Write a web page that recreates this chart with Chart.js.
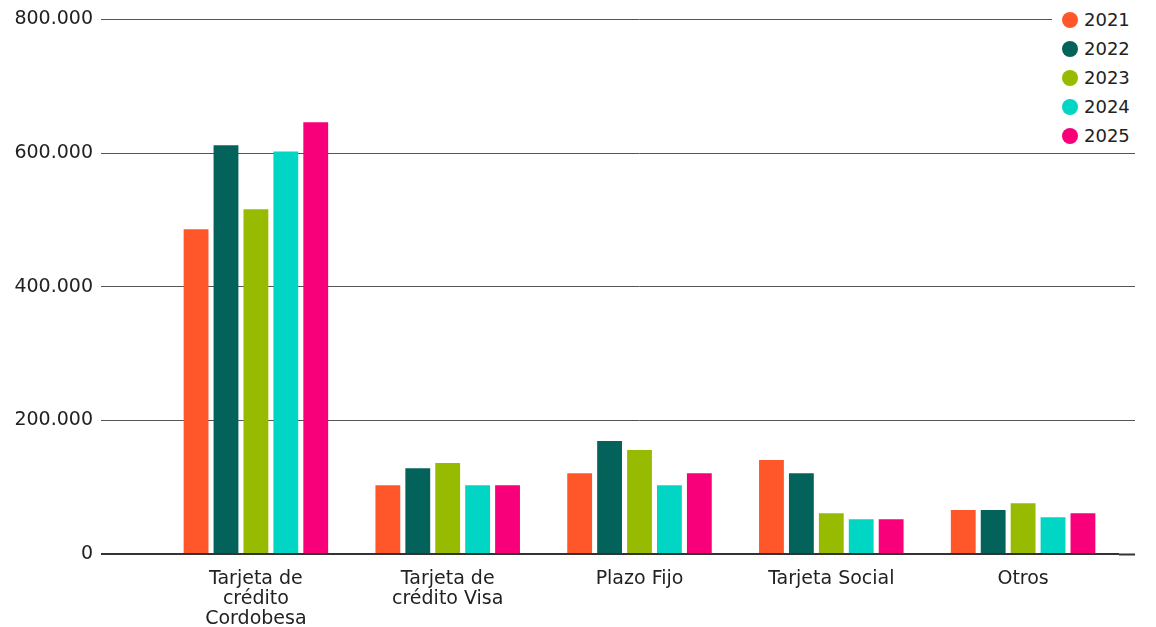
<!DOCTYPE html>
<html>
<head>
<meta charset="utf-8">
<script src="https://cdn.jsdelivr.net/npm/chart.js@4"></script>
<style>
  body { margin: 0; background: #fff; font-family: "DejaVu Sans", sans-serif; }
  #wrap { position: relative; width: 1156px; height: 627px; }
  #leyenda { position: absolute; left: 1052px; right: 0; top: 5px; background: #fff; padding: 0 0 0 10px; }
  #leyenda div { height: 29px; line-height: 29px; font-size: 18px; color: #222; display: flex; align-items: center; }
  #leyenda span { display: inline-block; width: 16px; height: 16px; border-radius: 50%; margin-right: 6px; }
</style>
</head>
<body>
<div id="wrap">
  <canvas id="grafico"></canvas>
  <div id="leyenda"></div>
</div>
<script>
const categorias = [
    ['Tarjeta de', 'crédito', 'Cordobesa'],
    ['Tarjeta de', 'crédito Visa'],
    'Plazo Fijo',
    'Tarjeta Social',
    'Otros'
];
const anios = ['2021', '2022', '2023', '2024', '2025'];
const colores = ['#FF5729', '#03635B', '#97BB00', '#00D6C3', '#F8007A'];

const v2021 = [486000, 103000, 121000, 140500, 66000];
const v2022 = [611500, 128500, 169000, 121000, 66000];
const v2023 = [516000, 136000, 155500, 61000, 76000];
const v2024 = [602500, 103000, 103000, 52000, 55000];
const v2025 = [646000, 103000, 121000, 52000, 61000];

const ticksY = [0, 200000, 400000, 600000, 800000];

const series = [v2021, v2022, v2023, v2024, v2025];
const fuente = { family: '"DejaVu Sans", sans-serif', size: 19 };
const colorGrilla = ctx => ctx.tick && ctx.tick.value === 0 ? '#333' : '#555';
const anchoGrilla = ctx => ctx.tick && ctx.tick.value === 0 ? 2 : 1;

const grafico = new Chart(document.getElementById('grafico'), {
    type: 'bar',
    data: {
        labels: categorias,
        datasets: series.map((s, i) => ({
            label: anios[i],
            data: s,
            backgroundColor: colores[i],
            categoryPercentage: 0.78,
            barPercentage: 0.83
        }))
    },
    options: {
        responsive: true,
        maintainAspectRatio: false,
        animation: false,
        layout: { padding: { top: 8, bottom: 0, left: 0, right: 21 } },
        plugins: { legend: { display: false }, tooltip: { enabled: false } },
        scales: {
            x: {
                afterFit: ax => { ax.height = 73; },
                grid: { display: false, drawTicks: false },
                border: { display: false },
                ticks: { color: '#222', font: { ...fuente, lineHeight: 1.05 }, padding: 15, maxRotation: 0, autoSkip: false }
            },
            y: {
                min: 0, max: 800000,
                afterBuildTicks: ax => { ax.ticks = ticksY.map(v => ({ value: v })); },
                afterFit: ax => { ax.width = 160; },
                border: { display: false },
                grid: { color: colorGrilla, lineWidth: anchoGrilla, tickLength: 59, tickColor: colorGrilla, tickWidth: anchoGrilla },
                ticks: {
                    color: '#222', font: fuente, padding: 8,
                    callback: v => v.toLocaleString('de-DE')
                }
            },
            y2: {
                position: 'right',
                min: 0, max: 800000,
                afterBuildTicks: ax => { ax.ticks = ticksY.map(v => ({ value: v })); },
                afterFit: ax => { ax.width = 16; },
                border: { display: false },
                grid: { drawOnChartArea: false, tickLength: 16, tickColor: colorGrilla, tickWidth: anchoGrilla },
                ticks: { display: false }
            }
        }
    }
});

const leyenda = document.getElementById('leyenda');
anios.forEach((a, i) => {
    const fila = document.createElement('div');
    fila.innerHTML = `<span style="background:${colores[i]}"></span>${a}`;
    leyenda.appendChild(fila);
});
</script>
</body>
</html>
